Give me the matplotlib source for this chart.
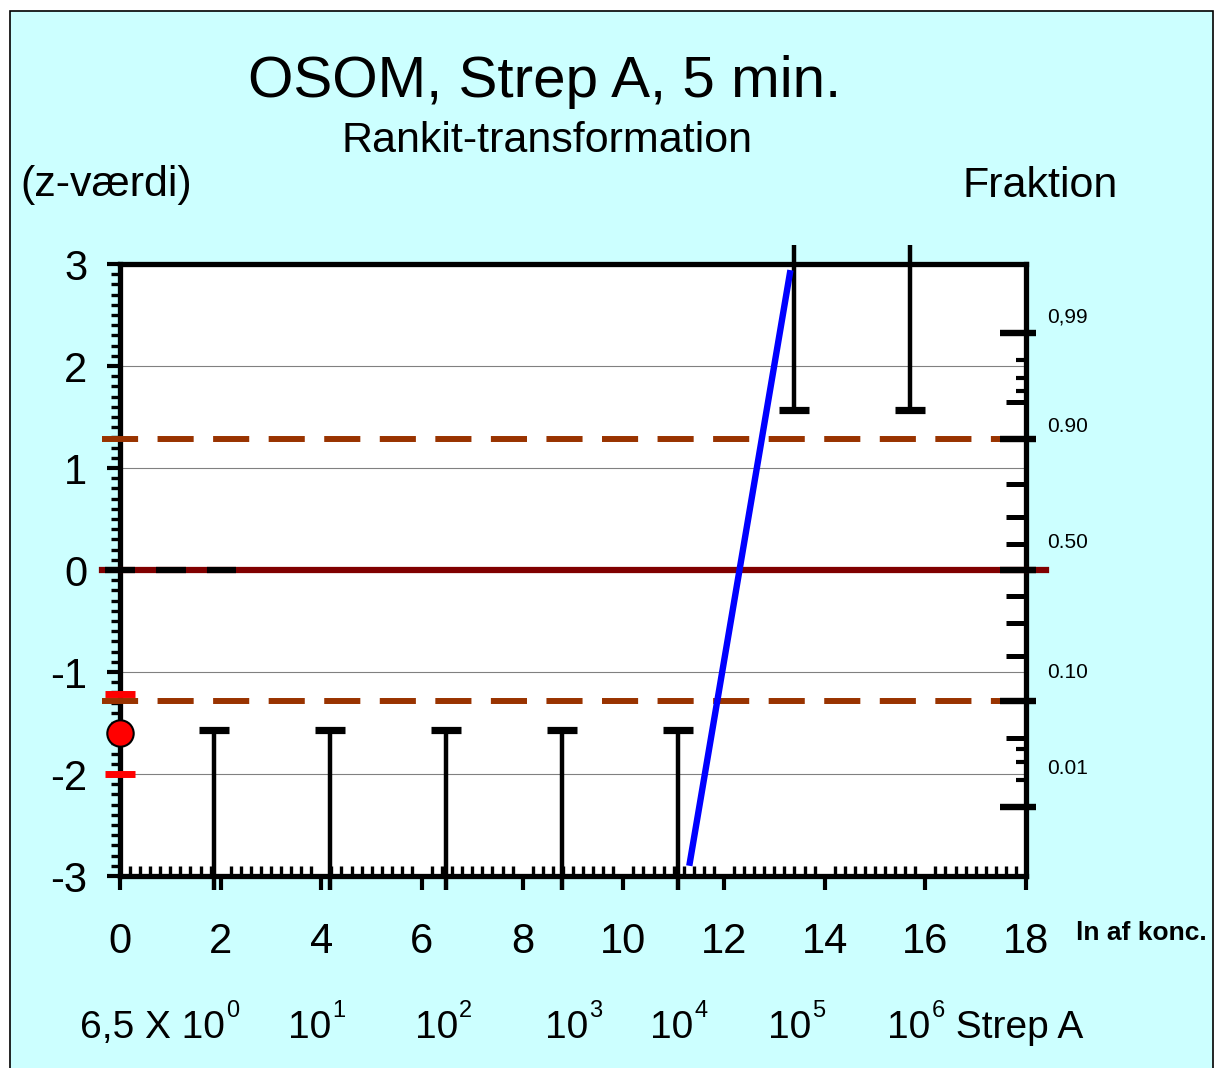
#!/usr/bin/env python3
"""OSOM Strep A 5 min: rankit plot against ln of concentration."""

import matplotlib

matplotlib.use("Agg")
import matplotlib.pyplot as plt
import numpy as np
from matplotlib.patches import Rectangle
from matplotlib.ticker import MultipleLocator

plt.rcParams["font.family"] = "Liberation Sans"
plt.rcParams["mathtext.fontset"] = "custom"
plt.rcParams["mathtext.rm"] = "Liberation Sans"
plt.rcParams["mathtext.it"] = "Liberation Sans:italic"
plt.rcParams["mathtext.bf"] = "Liberation Sans:bold"
plt.rcParams["axes.unicode_minus"] = False
plt.rcParams["lines.scale_dashes"] = False

# tested concentrations (organisms) and observed rankit per level
CONC = [6.5, 65, 650, 6500, 65000, 650000, 6500000]
RANKIT = [-1.57, -1.57, -1.57, -1.57, -1.57, 1.57, 1.57]

# fitted line (ln konc, z)
FIT_LNX = [11.31, 13.32]
FIT_Z = [-2.90, 2.94]

# blank sample: point and its limits
BLANK_Z = -1.60
BLANK_LIMITS = [-1.22, -2.00]

CUTOFF_Z = [-1.2816, 1.2816]
LINE_X = [-0.36, 18.4]
ZERO_DASH_X = [-0.30, 2.31]

# right hand fraction scale
FRAC_LABELS = ["0.01", "0.10", "0.50", "0.90", "0,99"]
FRAC_MAJOR_Z = [-2.326, -1.282, 0.0, 1.282, 2.326]
FRAC_LABEL_Z = [-1.95, -1.00, 0.265, 1.41, 2.48]
FRAC_MID_Z = [-1.645, -0.842, -0.524, -0.253, 0.253, 0.524, 0.842, 1.645]
FRAC_MINOR_Z = [-2.054, -1.881, -1.751, 1.751, 1.881, 2.054]

CONC_BASES = ["6,5 X 10", "10", "10", "10", "10", "10", "10"]
CONC_EXPONENTS = ["0", "1", "2", "3", "4", "5", "6"]
CONC_TAILS = ["", "", "", "", "", "", " Strep A"]
CONC_LABEL_PX = [80, 288, 415, 545, 650, 768, 887]

W, H = 1218, 1068


def px(x, y):
    return x / W, 1 - y / H


fig = plt.figure(figsize=(W / 100, H / 100), dpi=100, facecolor="white")
fig.patches.append(Rectangle(px(10, 1080), 1203 / W, 1069 / H, transform=fig.transFigure,
                             facecolor="#CCFFFF", edgecolor="black", lw=1.2, zorder=-10))

ax = fig.add_axes([120 / W, 1 - 876 / H, 906 / W, 612 / H])
ax.set_zorder(1)
ax.set_facecolor("white")
ax.set_xlim(0, 18)
ax.set_ylim(-3, 3)

for side in ax.spines.values():
    side.set_linewidth(3.8)

ax.xaxis.set_major_locator(MultipleLocator(2))
ax.xaxis.set_minor_locator(MultipleLocator(0.2))
ax.yaxis.set_major_locator(MultipleLocator(1))
ax.yaxis.set_minor_locator(MultipleLocator(0.1))
ax.tick_params(axis="x", which="major", direction="out", length=10, width=3, labelsize=30, pad=23)
ax.tick_params(axis="x", which="minor", direction="in", length=7, width=2.4)
ax.tick_params(axis="y", which="major", direction="out", length=9.5, width=3, labelsize=30, pad=14)
ax.tick_params(axis="y", which="minor", direction="out", length=6.5, width=2.4)
ax.yaxis.grid(True, which="major", color="#808080", lw=0.8)
ax.set_axisbelow(True)

# reference lines
ax.plot(LINE_X, [0, 0], color="#800000", lw=4.5, clip_on=False, zorder=3)
ax.plot(ZERO_DASH_X, [0, 0], color="black", lw=4.5, dashes=[21.6, 15.1],
        clip_on=False, zorder=3.5)
for z in CUTOFF_Z:
    ax.plot(LINE_X, [z, z], color="#993300", lw=4.3, dashes=[26, 14],
            dash_capstyle="butt", clip_on=False, zorder=3)

# observed rankits drawn as one sided bars
lnx = np.log(CONC)
rk = np.array(RANKIT)
ends = np.where(rk < 0, -3.14, 3.19)
ax.vlines(lnx, ends, rk, color="black", lw=3.2, clip_on=False, zorder=4)
ax.plot(lnx, rk, ls="none", marker="_", ms=21, mew=5.2, color="black", zorder=4)

ax.plot(FIT_LNX, FIT_Z, color="#0000FF", lw=4.6, solid_capstyle="butt", zorder=5)

# blank sample
ax.plot([0] * len(BLANK_LIMITS), BLANK_LIMITS, ls="none", marker="_", ms=21, mew=5,
        color="#FF0000", clip_on=False, zorder=6)
ax.plot([0], [BLANK_Z], ls="none", marker="o", ms=19, mfc="#FF0000", mec="black",
        mew=1.5, clip_on=False, zorder=7)

# fraction scale on the right spine
ytr = ax.get_yaxis_transform()
ax.hlines(FRAC_MAJOR_Z, 0.9713, 1.011, transform=ytr, color="black", lw=4.6, clip_on=False, zorder=6)
ax.hlines(FRAC_MID_Z, 0.978, 1.0, transform=ytr, color="black", lw=3.6, clip_on=False, zorder=6)
ax.hlines(FRAC_MINOR_Z, 0.989, 1.0, transform=ytr, color="black", lw=3.0, clip_on=False, zorder=6)
for lab, z in zip(FRAC_LABELS, FRAC_LABEL_Z):
    ax.text(1.0232, z, lab, transform=ytr, fontsize=15, va="center", ha="left")

# titles and axis captions
fig.text(*px(545, 97), "OSOM, Strep A, 5 min.", fontsize=42, ha="center", va="baseline")
fig.text(*px(547, 152), "Rankit-transformation", fontsize=31, ha="center", va="baseline")
fig.text(*px(20, 196), "(z-værdi)", fontsize=31, ha="left", va="baseline")
fig.text(*px(962, 197), "Fraktion", fontsize=31, ha="left", va="baseline")
fig.text(*px(1076, 940), "ln af konc.", fontsize=19, fontweight="bold", ha="left", va="baseline")

# concentration row: base, small raised exponent, optional tail
renderer = fig.canvas.get_renderer()
for base, exp, tail, x in zip(CONC_BASES, CONC_EXPONENTS, CONC_TAILS, CONC_LABEL_PX):
    t = fig.text(*px(x, 1038), base, fontsize=28, ha="left", va="baseline")
    x1 = t.get_window_extent(renderer).x1
    e = fig.text(x1 / W + 1 / W, 1 - 1017 / H, exp, fontsize=17, ha="left", va="baseline")
    if tail:
        x2 = e.get_window_extent(renderer).x1
        fig.text(x2 / W, 1 - 1038 / H, tail, fontsize=28, ha="left", va="baseline")

fig.savefig("out.png", dpi=100, facecolor=fig.get_facecolor())
